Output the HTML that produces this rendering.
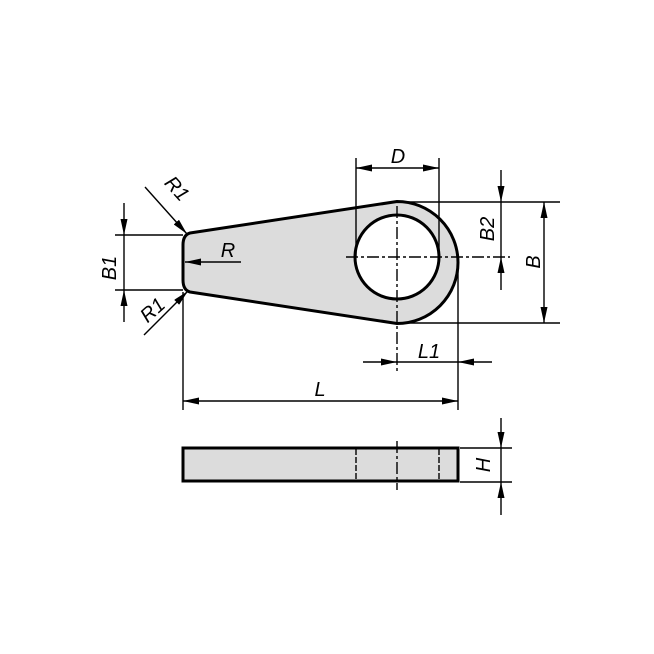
<!DOCTYPE html>
<html><head><style>html,body{margin:0;padding:0;background:#fff}svg{display:block}</style></head>
<body>
<svg width="654" height="654" viewBox="0 0 654 654" xmlns="http://www.w3.org/2000/svg" font-family="Liberation Sans, sans-serif" font-style="italic" font-size="20">
<defs>
<marker id="a" viewBox="0 0 16 7" refX="16" refY="3.5" markerWidth="16" markerHeight="7" orient="auto" markerUnits="userSpaceOnUse">
<path d="M0,0 L16,3.5 L0,7 z" fill="#000"/></marker>
</defs>
<path d="M190,233 L397,201.5 A61,61 0 0 1 397,323.5 L190,292 Q183,290 183,280 L183,245 Q183,235 190,233 Z" fill="#dcdcdc" stroke="#000" stroke-width="3" stroke-linejoin="round"/>
<circle cx="397" cy="257" r="42" fill="#fff" stroke="#000" stroke-width="3"/>
<g stroke="#000" stroke-width="1.4" fill="none">
<line x1="346" y1="257" x2="510" y2="257" stroke-dasharray="12,3,3,3"/>
<line x1="397" y1="206" x2="397" y2="373" stroke-dasharray="12,3,3,3"/>
<line x1="356" y1="158" x2="356" y2="257"/>
<line x1="439" y1="158" x2="439" y2="257"/>
<line x1="398" y1="168" x2="356" y2="168" marker-end="url(#a)"/>
<line x1="398" y1="168" x2="439" y2="168" marker-end="url(#a)"/>
<line x1="400" y1="202" x2="560" y2="202"/>
<line x1="400" y1="323" x2="560" y2="323"/>
<line x1="501" y1="170" x2="501" y2="202" marker-end="url(#a)"/>
<line x1="501" y1="290" x2="501" y2="257" marker-end="url(#a)"/>
<line x1="501" y1="202" x2="501" y2="257"/>
<line x1="544" y1="262" x2="544" y2="202" marker-end="url(#a)"/>
<line x1="544" y1="262" x2="544" y2="323" marker-end="url(#a)"/>
<line x1="115" y1="235" x2="183" y2="235"/>
<line x1="115" y1="290" x2="183" y2="290"/>
<line x1="124" y1="203" x2="124" y2="235" marker-end="url(#a)"/>
<line x1="124" y1="322" x2="124" y2="290" marker-end="url(#a)"/>
<line x1="124" y1="235" x2="124" y2="290"/>
<line x1="145" y1="187" x2="187" y2="234" marker-end="url(#a)"/>
<line x1="144" y1="335" x2="188" y2="291" marker-end="url(#a)"/>
<line x1="241" y1="262" x2="185" y2="262" marker-end="url(#a)"/>
<line x1="458" y1="262" x2="458" y2="410"/>
<line x1="363" y1="362" x2="397" y2="362" marker-end="url(#a)"/>
<line x1="492" y1="362" x2="458" y2="362" marker-end="url(#a)"/>
<line x1="397" y1="362" x2="458" y2="362"/>
<line x1="183" y1="292" x2="183" y2="410"/>
<line x1="320" y1="401" x2="183" y2="401" marker-end="url(#a)"/>
<line x1="320" y1="401" x2="458" y2="401" marker-end="url(#a)"/>
<line x1="460" y1="448" x2="512" y2="448"/>
<line x1="460" y1="482" x2="512" y2="482"/>
<line x1="501" y1="418" x2="501" y2="448" marker-end="url(#a)"/>
<line x1="501" y1="515" x2="501" y2="482" marker-end="url(#a)"/>
<line x1="501" y1="448" x2="501" y2="482"/>
</g>
<rect x="183" y="448" width="275" height="33" fill="#dcdcdc" stroke="#000" stroke-width="3"/>
<g stroke="#000" stroke-width="1.4">
<line x1="356" y1="449" x2="356" y2="480" stroke-dasharray="6,2"/>
<line x1="439" y1="449" x2="439" y2="480" stroke-dasharray="6,2"/>
<line x1="397" y1="441" x2="397" y2="490" stroke-dasharray="12,3,3,3"/>
</g>
<text x="398" y="163" text-anchor="middle">D</text>
<text transform="translate(494,229) rotate(-90)" text-anchor="middle">B2</text>
<text transform="translate(540,262) rotate(-90)" text-anchor="middle">B</text>
<text transform="translate(116,268) rotate(-90)" text-anchor="middle">B1</text>
<text transform="translate(172,193) rotate(48)" text-anchor="middle">R1</text>
<text transform="translate(157,315) rotate(-42)" text-anchor="middle">R1</text>
<text x="228" y="257" text-anchor="middle">R</text>
<text x="429" y="358" text-anchor="middle">L1</text>
<text x="320" y="396" text-anchor="middle">L</text>
<text transform="translate(490,465) rotate(-90)" text-anchor="middle">H</text>
</svg>
</body></html>
